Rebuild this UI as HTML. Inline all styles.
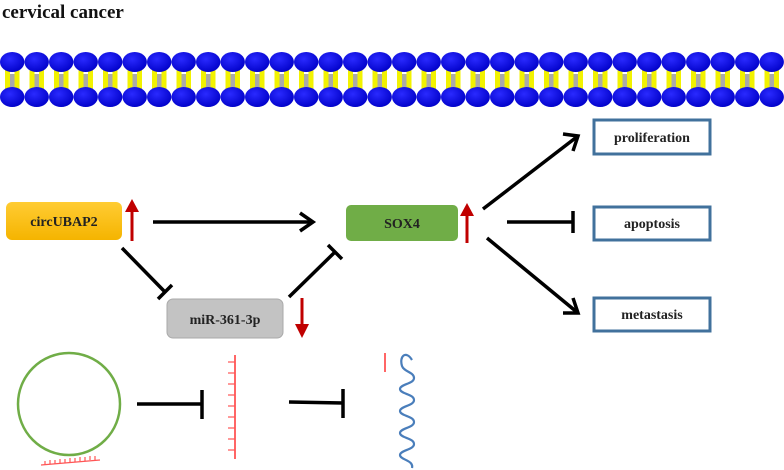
<!DOCTYPE html>
<html><head><style>
html,body{margin:0;padding:0;background:#fff;}
svg{display:block;}
text{font-family:"Liberation Serif",serif;font-weight:bold;}
</style></head><body>
<svg width="784" height="470" viewBox="0 0 784 470" xmlns="http://www.w3.org/2000/svg">
<defs>
<linearGradient id="og" x1="0" y1="0" x2="0" y2="1"><stop offset="0" stop-color="#ffcc33"/><stop offset="1" stop-color="#f5b400"/></linearGradient>
<radialGradient id="bl" cx="0.4" cy="0.35" r="0.7"><stop offset="0" stop-color="#2a2aff"/><stop offset="1" stop-color="#0000c8"/></radialGradient>
<pattern id="mem" x="0" y="46" width="24.5" height="70" patternUnits="userSpaceOnUse">
<rect x="5" y="22" width="5" height="26" fill="#f2f200"/>
<rect x="14.5" y="22" width="5" height="26" fill="#f2f200"/>
<rect x="10" y="28" width="4.5" height="14" fill="#aaa"/>
<ellipse cx="12.2" cy="16" rx="12.2" ry="10" fill="url(#bl)"/>
<ellipse cx="12.2" cy="51" rx="12.2" ry="10" fill="url(#bl)"/>
</pattern>
</defs>
<text x="2" y="18" font-size="19" fill="#111">cervical cancer</text>
<rect x="0" y="46" width="784" height="70" fill="url(#mem)"/>

<rect x="6" y="202" width="116" height="38" rx="6" fill="url(#og)"/>
<text x="64" y="226" font-size="14" text-anchor="middle" fill="#222">circUBAP2</text>
<rect x="346" y="205" width="112" height="36" rx="5" fill="#70ad47"/>
<text x="402" y="228" font-size="14" text-anchor="middle" fill="#222">SOX4</text>
<rect x="167" y="299" width="116" height="39" rx="6" fill="#c3c3c3" stroke="#aaa"/>
<text x="225" y="324" font-size="14" text-anchor="middle" fill="#222">miR-361-3p</text>

<g fill="#fff" stroke="#41719c" stroke-width="3">
<rect x="594" y="120" width="116" height="34"/>
<rect x="594" y="207" width="116" height="33"/>
<rect x="594" y="298" width="116" height="33"/>
</g>
<g font-size="14" text-anchor="middle" fill="#222">
<text x="652" y="142">proliferation</text>
<text x="652" y="228">apoptosis</text>
<text x="652" y="319">metastasis</text>
</g>

<g stroke="#c00000" stroke-width="3" fill="#c00000">
<line x1="132" y1="241" x2="132" y2="210"/>
<line x1="467" y1="243" x2="467" y2="214"/>
<line x1="302" y1="298" x2="302" y2="326"/>
</g>
<g fill="#c00000">
<polygon points="125,212 139,212 132,199"/>
<polygon points="460,216 474,216 467,203"/>
<polygon points="295,324 309,324 302,338"/>
</g>

<g stroke="#000" stroke-width="3.5" fill="none" stroke-linecap="butt">
<line x1="153" y1="222" x2="313" y2="222"/>
<polyline points="300,213 313,222 300,231"/>
<line x1="122" y1="248" x2="165" y2="292"/>
<line x1="158" y1="299" x2="172" y2="285"/>
<line x1="289" y1="297" x2="335" y2="252"/>
<line x1="328" y1="245" x2="342" y2="259"/>
<line x1="483" y1="209" x2="578" y2="136"/>
<polyline points="563,134 578,136 573,151"/>
<line x1="507" y1="222" x2="573" y2="222"/>
<line x1="573" y1="211" x2="573" y2="233"/>
<line x1="487" y1="238" x2="578" y2="313"/>
<polyline points="573,298 578,313 563,313"/>
<line x1="137" y1="404" x2="202" y2="404"/>
<line x1="202" y1="390" x2="202" y2="419"/>
<line x1="289" y1="402" x2="343" y2="403"/>
<line x1="343" y1="389" x2="343" y2="418"/>
</g>

<circle cx="69" cy="404" r="51" fill="none" stroke="#70ad47" stroke-width="2.5"/>
<g stroke="#ff5555" stroke-width="1.2">
<line x1="41" y1="465" x2="100" y2="460"/>
<line x1="45" y1="461" x2="45" y2="465"/><line x1="50" y1="460" x2="50" y2="464"/><line x1="55" y1="460" x2="55" y2="464"/><line x1="60" y1="459" x2="60" y2="463"/><line x1="65" y1="459" x2="65" y2="463"/><line x1="70" y1="458" x2="70" y2="462"/><line x1="75" y1="458" x2="75" y2="462"/><line x1="80" y1="457" x2="80" y2="461"/><line x1="85" y1="457" x2="85" y2="461"/><line x1="90" y1="456" x2="90" y2="460"/><line x1="95" y1="456" x2="95" y2="460"/>
<line x1="235" y1="355" x2="235" y2="459" stroke-width="1.8"/>
<line x1="228" y1="362" x2="235" y2="362"/><line x1="228" y1="373" x2="235" y2="373"/><line x1="228" y1="384" x2="235" y2="384"/><line x1="228" y1="395" x2="235" y2="395"/><line x1="228" y1="406" x2="235" y2="406"/><line x1="228" y1="417" x2="235" y2="417"/><line x1="228" y1="428" x2="235" y2="428"/><line x1="228" y1="439" x2="235" y2="439"/><line x1="228" y1="450" x2="235" y2="450"/>
<line x1="385" y1="353" x2="385" y2="372" stroke-width="1.8"/>
</g>
<path d="M412,360 C406,350 399,356 402,366 C404,372 414,372 414,378 C414,384 400,384 400,389 C400,394 414,394 414,400 C414,406 400,406 400,411 C400,416 414,416 414,422 C414,428 400,428 400,433 C400,438 414,438 414,444 C414,450 400,450 400,455 C400,460 414,460 412,468" fill="none" stroke="#4a7ebb" stroke-width="2.2"/>
</svg>
</body></html>
